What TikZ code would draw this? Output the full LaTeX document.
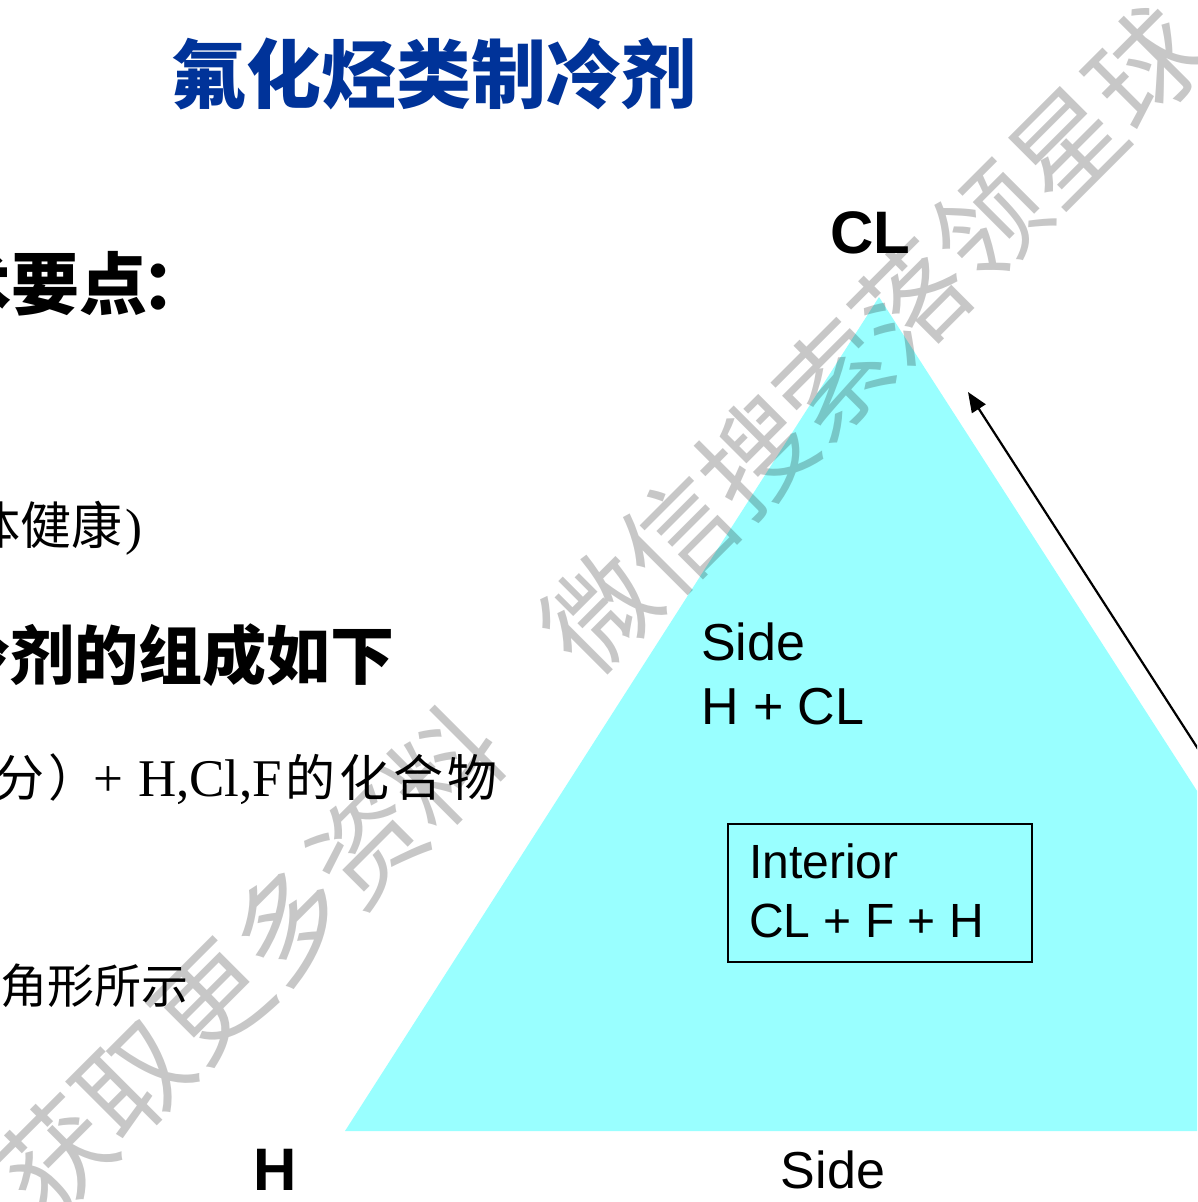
\documentclass[tikz,border=0pt]{standalone}
\usepackage{fontspec}
\setmainfont{Liberation Serif}
\setsansfont{Liberation Sans}
\newfontfamily\cjk{Noto Sans CJK SC}
\usetikzlibrary{arrows.meta}
\definecolor{tri}{RGB}{153,255,255}
\definecolor{ttl}{RGB}{0,51,153}
\begin{document}
\begin{tikzpicture}[x=1pt,y=-1pt,
  txt/.style={inner sep=0pt, anchor=base west},
  lbl/.style={inner sep=0pt, anchor=base west, font=\sffamily\fontsize{52}{62}\selectfont},
  boxlbl/.style={inner sep=0pt, anchor=base west, font=\sffamily\fontsize{48}{58}\selectfont},
  corner/.style={inner sep=0pt, anchor=base, font=\sffamily\bfseries\fontsize{60}{70}\selectfont},
  wmark/.style={inner sep=0pt, anchor=center, rotate=45, text=black, text opacity=0.22,
                font=\cjk\fontsize{110}{120}\selectfont}]
\useasboundingbox (0,0) rectangle (1197,1202);
\clip (0,0) rectangle (1197,1202);
\fill[white] (0,0) rectangle (1197,1202);

% left slide text
\node[txt, text=ttl, font=\cjk\bfseries\fontsize{75}{85}\selectfont] (title) at (171,102) {氟化烃类制冷剂};
\node[txt, font=\cjk\bfseries\fontsize{68}{78}\selectfont] (row1) at (-57,309) {术要点\hspace{-6pt}：};
\node[txt, font=\cjk\fontsize{51}{61}\selectfont] (row2) at (-31,544) {体健康\rmfamily\hspace{3pt})};
\node[txt, font=\cjk\bfseries\fontsize{64}{74}\selectfont] (row3) at (-54,679) {冷剂的组成如下};
\node[txt, font=\cjk\fontsize{50}{60}\selectfont] (row4a) at (-6,796) {分\hspace{4pt}）};
\node[txt, font=\rmfamily\fontsize{53}{63}\selectfont] (row4b) at (93,796) {+\hspace{15pt}H,Cl,F};
\node[txt, font=\cjk\fontsize{50}{60}\selectfont] (row4c) at (285,796) {的\hspace{4pt}化\hspace{4pt}合\hspace{4pt}物};
\node[txt, font=\cjk\fontsize{47}{57}\selectfont] (row5) at (0,1003) {角形所示};

% triangle
\coordinate (apex) at (879,297);
\coordinate (bl) at (345,1131);
\coordinate (br) at (1416,1131);
\fill[tri] (bl) -- (apex) -- (br) -- cycle;

% interior box
\node[draw=black, line width=2pt, minimum width=304pt, minimum height=138pt, inner sep=0pt] (box) at (880,892.5) {};
\node[boxlbl] (interior) at (749,878) {Interior};
\node[boxlbl] (interiorf) at (749,937) {CL + F + H};

% side label inside
\node[lbl] (sidein) at (701,660) {Side};
\node[lbl] (sideinf) at (701,724) {H + CL};

% corner labels
\node[corner] (cl) at (870,253) {CL};
\node[corner] (h) at (275,1190) {H};
\node[lbl, anchor=base] (sidebot) at (833,1188) {Side};

% arrow
\coordinate (arrs) at (1260,845);
\coordinate (arre) at (968,392);
\draw[line width=2.2pt, -{Triangle[length=20pt,width=16pt]}] (arrs) -- (arre);

% watermark
\node[wmark] (wm) at (600,612) {获取更多资料　微信搜索落领星球};
\end{tikzpicture}
\end{document}
